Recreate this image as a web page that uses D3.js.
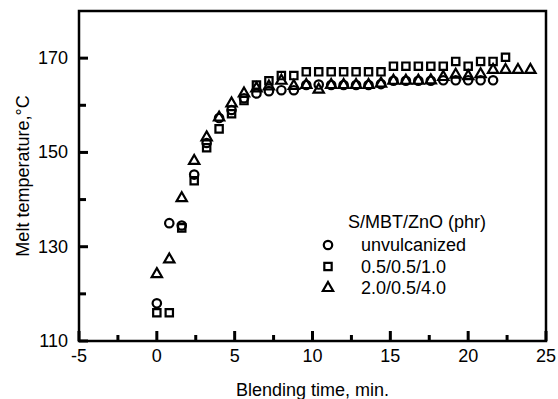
<!DOCTYPE html>
<html>
<head>
<meta charset="utf-8">
<script src="https://cdn.jsdelivr.net/npm/d3@7/dist/d3.min.js"></script>
<style>
  body { margin: 0; background: #fff; }
  text { font-family: "Liberation Sans", Arial, sans-serif; fill: #000; }
</style>
</head>
<body>
<div id="vis"></div>
<script>
// blending time points (min), spacing 0.8
var times = [0, 0.8, 1.6, 2.4, 3.2, 4.0, 4.8, 5.6, 6.4, 7.2, 8.0, 8.8, 9.6, 10.4, 11.2, 12.0,
             12.8, 13.6, 14.4, 15.2, 16.0, 16.8, 17.6, 18.4, 19.2, 20.0, 20.8, 21.6, 22.4, 23.2, 24.0];

var unvulcanized = [118, 135, 134.5, 145.3, 152, 157.3, 159, 161.5, 162.5, 163, 163.2, 163.2, 164.3, 164.4, 164.3, 164.3,
                    164.3, 164.3, 164.5, 165.2, 165.2, 165.2, 165.2, 165.3, 165.3, 165.3, 165.3, 165.3];
var sq0515 = [116, 116, 134, 144, 151, 155, 158.2, 161, 164.3, 165.2, 166.3, 166.3, 167.1, 167.1, 167.1, 167.1,
              167.1, 167.1, 167.1, 168.3, 168.3, 168.3, 168.3, 168.3, 169.3, 168.3, 169.3, 169.3, 170.2];
var tri2054 = [124.2, 127.3, 140.3, 148.2, 153.2, 157.4, 160.4, 162.5, 163.6, 164, 165.2, 164.1, 164.3, 163.3, 164.3, 164.3,
               164.3, 164.3, 164.6, 165.2, 165.2, 165.2, 165.3, 166, 166.5, 166.2, 166.6, 167.5, 167.5, 167.5, 167.5];

var seriesNames = ['unvulcanized', '0.5/0.5/1.0', '2.0/0.5/4.0'];
var xTicks = [-5, 0, 5, 10, 15, 20, 25];
var xMinorTicks = [-2.5, 2.5, 7.5, 12.5, 17.5, 22.5];
var yTicks = [110, 130, 150, 170];
var yMinorTicks = [120, 140, 160];

var W = 558, H = 399;
var margin = {left: 79, right: 12, top: 11, bottom: 58};

var svg = d3.select('#vis').append('svg')
    .attr('width', W)
    .attr('height', H);

var xScale = d3.scaleLinear().domain([-5, 25]).range([margin.left, W - margin.right]);
var yScale = d3.scaleLinear().domain([110, 180]).range([H - margin.bottom, margin.top]);

var x0 = xScale(-5), yb = yScale(110);

// tick labels
svg.append('g').selectAll('text')
    .data(xTicks)
    .enter().append('text')
    .attr('x', function(d) { return xScale(d); })
    .attr('y', yb + 21)
    .style('text-anchor', 'middle')
    .style('font-size', '18px')
    .text(function(d) { return d < 0 ? '-' + Math.abs(d) : d; });

svg.append('g').selectAll('text')
    .data(yTicks)
    .enter().append('text')
    .attr('x', x0 - 11)
    .attr('y', function(d) { return yScale(d) + 6; })
    .style('text-anchor', 'end')
    .style('font-size', '18px')
    .text(function(d) { return d; });

// frame
svg.append('rect')
    .attr('x', x0)
    .attr('y', yScale(180))
    .attr('width', xScale(25) - x0)
    .attr('height', yb - yScale(180))
    .attr('fill', 'none')
    .attr('stroke', '#000')
    .attr('stroke-width', 2.5);

// inward ticks
var tickG = svg.append('g').attr('fill', '#000');
tickG.selectAll('.xt').data(xTicks.concat(xMinorTicks)).enter().append('rect')
    .attr('x', function(d) { return xScale(d) - 1.5; })
    .attr('y', function(d) { return yb - (d % 5 === 0 ? 10 : 6); })
    .attr('width', 3)
    .attr('height', function(d) { return d % 5 === 0 ? 10 : 6; });
tickG.selectAll('.yt').data(yTicks.concat(yMinorTicks)).enter().append('rect')
    .attr('x', x0)
    .attr('y', function(d) { return yScale(d) - 1.5; })
    .attr('width', function(d) { return d % 20 === 10 ? 9 : 7; })
    .attr('height', 3);

// axis titles
svg.append('text')
    .attr('x', (x0 + xScale(25)) / 2)
    .attr('y', 396)
    .style('text-anchor', 'middle')
    .style('font-size', '18px')
    .text('Blending time, min.');

svg.append('text')
    .attr('transform', 'translate(29,' + yScale(145) + ')rotate(-90)')
    .style('text-anchor', 'middle')
    .style('font-size', '18px')
    .text('Melt temperature,°C');

// markers
var shapes = [d3.symbolCircle, d3.symbolSquare, d3.symbolTriangle];
var sizes = [56, 54, 46];
var allSeries = [unvulcanized, sq0515, tri2054];

allSeries.forEach(function(vals, i) {
    var sym = d3.symbol().type(shapes[i]).size(sizes[i]);
    svg.append('g').selectAll('path')
        .data(vals)
        .enter().append('path')
        .attr('d', sym)
        .attr('transform', function(d, j) {
            return 'translate(' + xScale(times[j]) + ',' + yScale(d) + ')';
        })
        .attr('fill', 'none')
        .attr('stroke', '#000')
        .attr('stroke-width', 2.2);
});

// legend
var legend = svg.append('g');
legend.append('text')
    .attr('x', 348)
    .attr('y', 228)
    .style('font-size', '18px')
    .text('S/MBT/ZnO (phr)');

seriesNames.forEach(function(name, i) {
    var yy = 245 + i * 21.5;
    legend.append('path')
        .attr('d', d3.symbol().type(shapes[i]).size(sizes[i])())
        .attr('transform', 'translate(' + 328 + ',' + yy + ')')
        .attr('fill', 'none')
        .attr('stroke', '#000')
        .attr('stroke-width', 2.2);
    legend.append('text')
        .attr('x', 361)
        .attr('y', yy + 6)
        .style('font-size', '18px')
        .text(name);
});
</script>
</body>
</html>
